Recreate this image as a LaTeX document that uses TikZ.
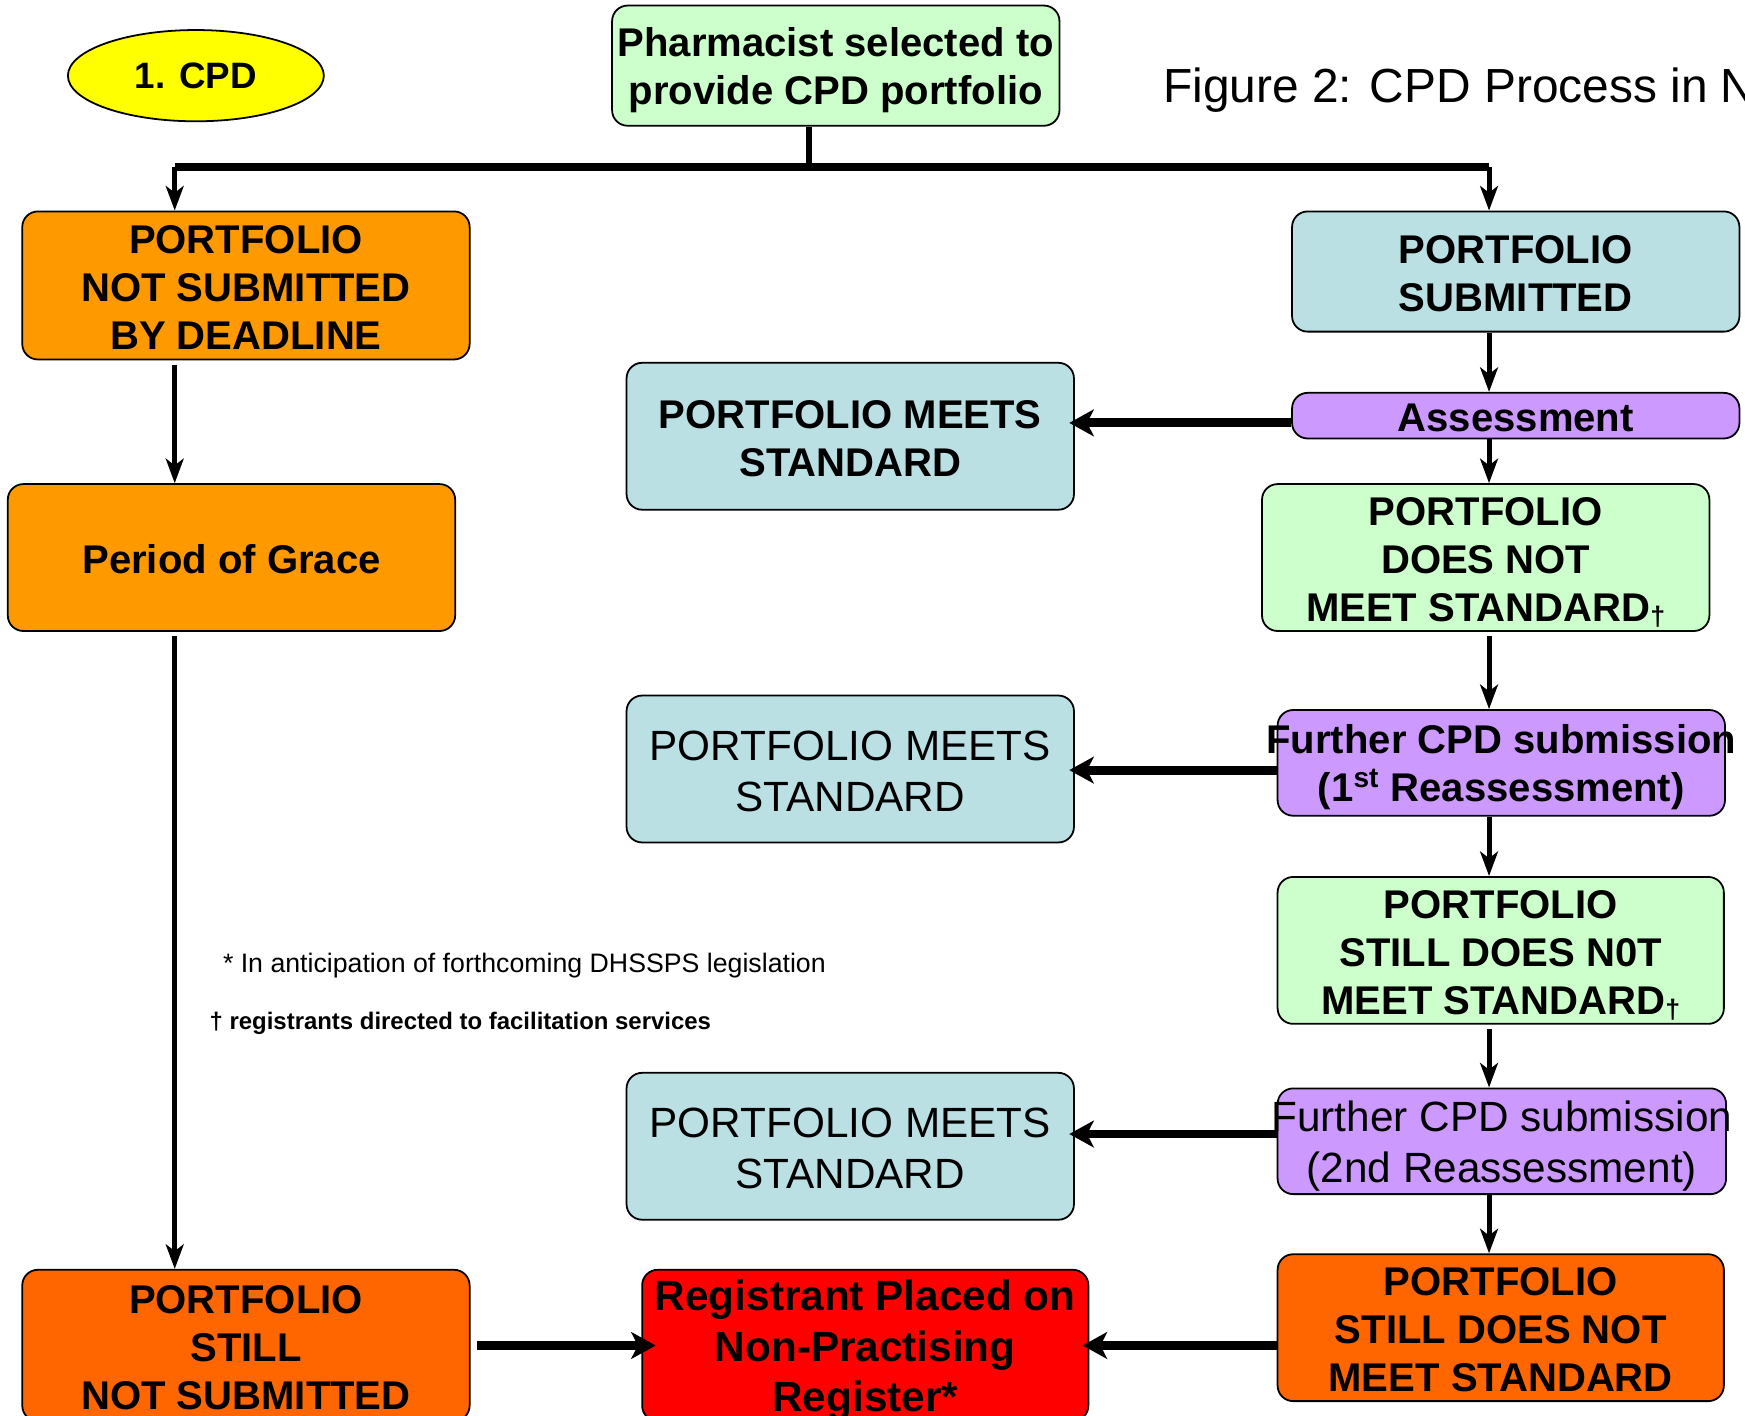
\documentclass[tikz,border=0pt]{standalone}
\usepackage{fontspec}
\setmainfont{Liberation Sans}
\usetikzlibrary{arrows.meta,shapes.geometric}
\definecolor{cgreen}{HTML}{CCFFCC}
\definecolor{cblue}{HTML}{BBE0E3}
\definecolor{cpurple}{HTML}{CC99FF}
\definecolor{corange}{HTML}{FF9900}
\definecolor{cdorange}{HTML}{FF6600}
\definecolor{cred}{HTML}{FF0000}
\definecolor{cyellow}{HTML}{FFFF00}
\newcommand{\dagmark}{{\fontsize{12}{12}\selectfont\raisebox{-2pt}{†}}}
\newcommand{\ls}{\rule[-0.15em]{0pt}{1.1em}}
\tikzset{
  box/.style={draw, rounded corners=7pt, line width=0.8pt, align=center, inner sep=0pt},
  bftext/.style={font=\fontsize{18}{21.5}\selectfont\bfseries},
  rgtext/.style={font=\fontsize{19}{23}\selectfont},
  redtext/.style={font=\fontsize{19}{22.75}\selectfont\bfseries},
  thinarr/.style={line width=2.25pt, -{Stealth[length=11pt, width=8pt, inset=3pt]}},
  thickarr/.style={line width=4pt, -{Stealth[length=11pt, width=12pt, inset=3pt]}},
}
\begin{document}
\begin{tikzpicture}[x=0.5pt, y=-0.5pt]
\useasboundingbox (0,0) rectangle (1568,1272);
\clip (0,0) rectangle (1568,1272);
\fill[white] (0,0) rectangle (1568,1272);

% nodes
\node[ellipse, draw, line width=0.8pt, fill=cyellow, minimum width=115pt, minimum height=41pt, inner sep=0pt, font=\fontsize{16.5}{18}\selectfont\bfseries] (cpd) at (176,68) {1. CPD};
\node[box, fill=cgreen, bftext, minimum width=201pt, minimum height=54pt] (top) at (751,59) {\ls Pharmacist selected to\\\ls provide CPD portfolio};
\node[anchor=base west, inner sep=0pt, font=\fontsize{21.5}{24}\selectfont] (title) at (1045,92) {Figure 2: CPD Process in N};

\node[box, fill=corange, bftext, minimum width=201pt, minimum height=66.5pt] (nsub) at (221,256.5) {\ls PORTFOLIO\\\ls NOT SUBMITTED\\\ls BY DEADLINE};
\node[box, fill=corange, bftext, minimum width=201pt, minimum height=66pt] (grace) at (208,501) {\ls Period of Grace};
\node[box, fill=cdorange, bftext, minimum width=201pt, minimum height=68pt] (snsub) at (221,1209) {\ls PORTFOLIO\\\ls STILL\\\ls NOT SUBMITTED};
\node[box, fill=cred, redtext, minimum width=200.5pt, minimum height=68pt] (red) at (777.5,1209) {\ls Registrant Placed on\\\ls Non-Practising\\\ls Register*};

\node[box, fill=cblue, bftext, minimum width=201pt, minimum height=54pt] (sub) at (1362,244) {\ls PORTFOLIO\\\ls SUBMITTED};
\node[box, fill=cpurple, bftext, minimum width=201pt, minimum height=20.5pt] (assess) at (1362,373.5) {\ls Assessment};
\node[box, fill=cblue, bftext, minimum width=201pt, minimum height=66pt] (meets1) at (764,392) {\ls PORTFOLIO MEETS\\\ls STANDARD};
\node[box, fill=cgreen, bftext, minimum width=201pt, minimum height=66pt] (dnm) at (1335,501) {\ls PORTFOLIO\\\ls DOES NOT\\\ls MEET STANDARD\dagmark};
\node[box, fill=cpurple, bftext, minimum width=201pt, minimum height=47.5pt] (fur1) at (1349,685.5) {\ls\makebox[0pt]{Further CPD submission}\\\ls (1\textsuperscript{st} Reassessment)};
\node[box, fill=cblue, rgtext, minimum width=201pt, minimum height=66pt] (meets2) at (764,691) {\ls PORTFOLIO MEETS\\\ls STANDARD};
\node[box, fill=cgreen, bftext, minimum width=200.5pt, minimum height=66pt] (sdnm) at (1348.5,854) {\ls PORTFOLIO\\\ls STILL DOES N0T\\\ls MEET STANDARD\dagmark};
\node[box, fill=cpurple, rgtext, minimum width=201.5pt, minimum height=47.5pt] (fur2) at (1349.5,1025.5) {\ls\makebox[0pt]{Further CPD submission}\\\ls (2nd Reassessment)};
\node[box, fill=cblue, rgtext, minimum width=201pt, minimum height=66pt] (meets3) at (764,1030) {\ls PORTFOLIO MEETS\\\ls STANDARD};
\node[box, fill=cdorange, bftext, minimum width=200.5pt, minimum height=66pt] (sdnm2) at (1348.5,1193) {\ls PORTFOLIO\\\ls STILL DOES NOT\\\ls MEET STANDARD};

\node[anchor=west, inner sep=0pt, font=\fontsize{12}{14}\selectfont] (note1) at (200,868) {* In anticipation of forthcoming DHSSPS legislation};
\node[anchor=west, inner sep=0pt, font=\fontsize{10.75}{13}\selectfont\bfseries] (note2) at (188,920) {† registrants directed to facilitation services};

% helper coordinates
\coordinate (lx) at (157,0);
\coordinate (rx) at (1338,0);
\coordinate (tx) at (727,0);
\coordinate (by) at (0,150);
\coordinate (h1) at (0,380);
\coordinate (h2) at (0,692);
\coordinate (h3) at (0,1019);
\coordinate (h4) at (0,1209);

% connectors
\draw[line width=2.5pt] (top.south -| tx) -- (tx |- by);
\draw[line width=3.5pt] (lx |- by) -- (rx |- by);
\draw[thinarr] (lx |- by) -- (nsub.north -| lx);
\draw[thinarr] (rx |- by) -- (sub.north -| rx);
\draw[thinarr, shorten <=2pt] (nsub.south -| lx) -- (grace.north -| lx);
\draw[thinarr, shorten <=2pt] (grace.south -| lx) -- (snsub.north -| lx);
\draw[thinarr] (sub.south -| rx) -- (assess.north -| rx);
\draw[thinarr] (assess.south -| rx) -- (dnm.north -| rx);
\draw[thinarr, shorten <=2pt] (dnm.south -| rx) -- (fur1.north -| rx);
\draw[thinarr] (fur1.south -| rx) -- (sdnm.north -| rx);
\draw[thinarr, shorten <=2pt] (sdnm.south -| rx) -- (fur2.north -| rx);
\draw[thinarr] (fur2.south -| rx) -- (sdnm2.north -| rx);

\draw[thickarr, shorten >=-2.5pt] (assess.west |- h1) -- (meets1.east |- h1);
\draw[thickarr, shorten >=-2.5pt] (fur1.west |- h2) -- (meets2.east |- h2);
\draw[thickarr, shorten >=-2.5pt] (fur2.west |- h3) -- (meets3.east |- h3);
\draw[thickarr, shorten >=-3pt] (sdnm2.west |- h4) -- (red.east |- h4);
\draw[thickarr, shorten <=3pt, shorten >=-6.5pt] (snsub.east |- h4) -- (red.west |- h4);
\end{tikzpicture}
\end{document}
